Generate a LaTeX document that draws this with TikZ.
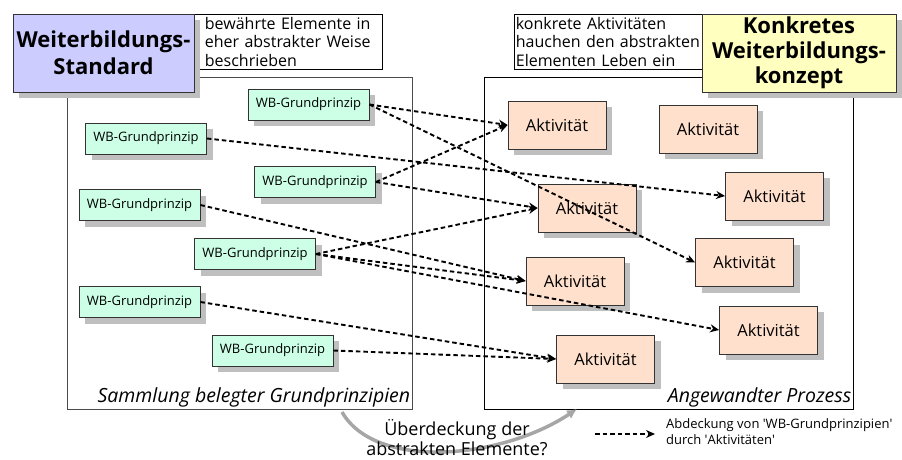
\documentclass[tikz,border=0pt]{standalone}
\usepackage{fontspec}
\setmainfont{Open Sans}
\usetikzlibrary{shadows}
\usetikzlibrary{arrows.meta}
\definecolor{mint}{RGB}{204,255,230}
\definecolor{peach}{RGB}{255,224,204}
\definecolor{lilac}{RGB}{204,204,255}
\definecolor{lemon}{RGB}{255,255,192}

\begin{document}
\begin{tikzpicture}[x=1pt, y=-1pt, >={Stealth[length=9pt,width=8pt]},
box/.style={draw=black!80, line width=.8pt, drop shadow={shadow xshift=6pt, shadow yshift=-6pt, fill=black!25, opacity=1}},
prinzip/.style={box, fill=mint, minimum width=121pt, minimum height=31pt, inner sep=0pt, font=\fontsize{13}{15}\selectfont},
aktiv/.style={box, fill=peach, minimum width=98pt, minimum height=48pt, inner sep=0pt, font=\fontsize{16.5}{19}\selectfont},
titel/.style={box, align=center, inner sep=0pt, font=\bfseries\fontsize{22}{27}\selectfont},
notiz/.style={draw, fill=white, line width=.8pt, anchor=north west, align=left, inner ysep=0pt, minimum height=55pt, font=\fontsize{16}{18.5}\selectfont},
rahmen/.style={draw, line width=.8pt, minimum height=332pt},
etikett/.style={anchor=south east, inner sep=2pt, font=\itshape\fontsize{19.5}{21}\selectfont},
deckt/.style={->, dash pattern=on 4.5pt off 3pt, line width=1.9pt}]

\useasboundingbox (0,0) rectangle (902,460);

\node[rahmen, draw=black!70, minimum width=345pt] (sammlung) at (239.5,243) {};
\node[rahmen, minimum width=369pt] (prozess) at (668.5,243) {};

\node[notiz, inner xsep=10.5pt, text width=167pt] (notizl) at (194,14) {bew\"ahrte Elemente in\\eher abstrakter Weise\\beschrieben};
\node[notiz, inner xsep=1.5pt, text width=185pt] (notizr) at (514,14) {konkrete Aktivit\"aten\\hauchen den abstrakten\\Elementen Leben ein};

\node[titel, fill=lilac, minimum width=181pt, minimum height=78pt] (standard) at (103.5,53) {Weiterbildungs-\\Standard};
\node[titel, fill=lemon, minimum width=194pt, minimum height=78pt, font=\bfseries\fontsize{22}{25}\selectfont] (konzept) at (799,53) {Konkretes\\Weiterbildungs-\\konzept};

\node[prinzip] (g1) at (308.5,104.5) {WB-Grundprinzip};
\node[prinzip] (g2) at (146,138.5) {WB-Grundprinzip};
\node[prinzip] (g3) at (315,182) {WB-Grundprinzip};
\node[prinzip] (g4) at (139.5,205) {WB-Grundprinzip};
\node[prinzip] (g5) at (255,254) {WB-Grundprinzip};
\node[prinzip] (g6) at (139.5,302) {WB-Grundprinzip};
\node[prinzip] (g7) at (272.5,350.5) {WB-Grundprinzip};

\node[aktiv] (a1) at (557,125) {Aktivit\"at};
\node[aktiv] (a2) at (708,129) {Aktivit\"at};
\node[aktiv] (a3) at (774.5,196) {Aktivit\"at};
\node[aktiv] (a4) at (587,208) {Aktivit\"at};
\node[aktiv] (a5) at (744.5,262.5) {Aktivit\"at};
\node[aktiv] (a6) at (575,281) {Aktivit\"at};
\node[aktiv] (a7) at (768.5,330) {Aktivit\"at};
\node[aktiv] (a8) at (605.5,359) {Aktivit\"at};

%%%%%%%%%%%%
\draw[deckt] (g1.east) -- (a1.west);
\draw[deckt] (g1.east) -- (a5.west);
\draw[deckt] (g2.east) -- (a3.west);
\draw[deckt] (g3.east) -- (a1.west);
\draw[deckt] (g3.east) -- (a4.west);
\draw[deckt] (g4.east) -- (a6.west);
\draw[deckt] (g5.east) -- (a4.west);
\draw[deckt] (g5.east) -- (a6.west);
\draw[deckt] (g5.east) -- (a7.west);
\draw[deckt] (g6.east) -- (a8.west);
\draw[deckt] (g7.east) -- (a8.west);
%%%%%%%%%%%%

\node[etikett] (lsammlung) at (sammlung.south east) {Sammlung belegter Grundprinzipien};
\node[etikett] (lprozess) at (prozess.south east) {Angewandter Prozess};

\coordinate (ustart) at (342,412);
\coordinate (uend) at (577,409);
\draw[line width=3.5pt, black!35, -{Latex[length=10pt,width=10pt]}] (ustart) .. controls (375,470) and (500,460) .. (uend);
\node[align=center, inner sep=0pt, font=\fontsize{18}{20}\selectfont] (frage) at (457,438) {\"Uberdeckung der\\abstrakten Elemente?};

\coordinate (lega) at (595,434);
\coordinate (legb) at (655,434);
\draw[deckt] (lega) -- (legb);
\node[anchor=west, align=left, inner sep=0pt, font=\fontsize{13}{16}\selectfont] (legende) at (666,432) {Abdeckung von \textquotesingle WB-Grundprinzipien\textquotesingle\\durch \textquotesingle Aktivit\"aten\textquotesingle};
\end{tikzpicture}
\end{document}
